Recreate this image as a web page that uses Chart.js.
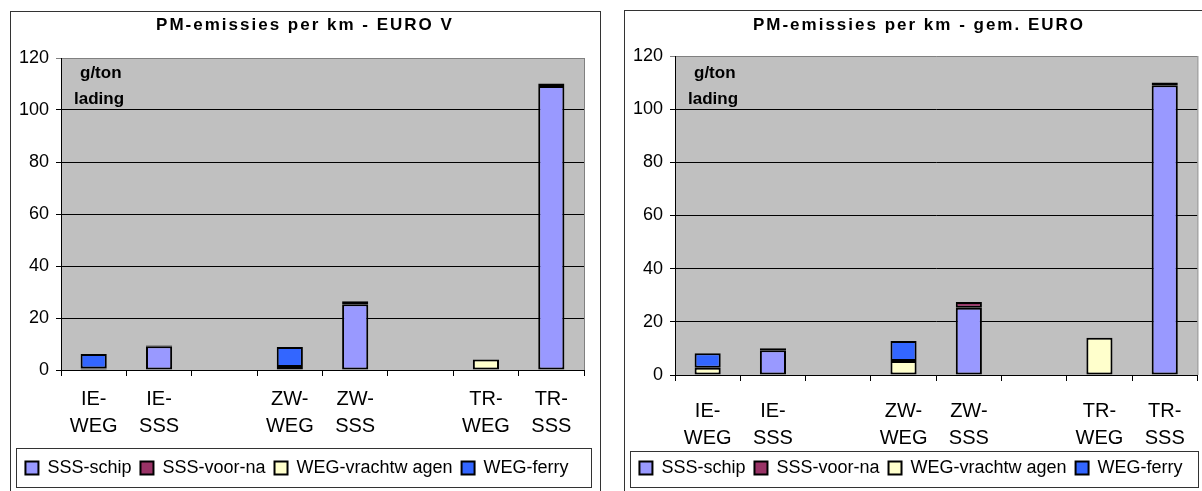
<!DOCTYPE html>
<html>
<head>
<meta charset="utf-8">
<script src="https://cdn.jsdelivr.net/npm/chart.js@4.4.1/dist/chart.umd.min.js"></script>
<style>
  body { margin: 0; background: #fff; width: 1202px; height: 491px; overflow: hidden; position: relative; }
  canvas { position: absolute; }
  #euroV { left: 10px; top: 11px; }
  #gemEuro { left: 624px; top: 10px; }
</style>
</head>
<body>
<canvas id="euroV" width="591" height="480"></canvas>
<canvas id="gemEuro" width="578" height="481"></canvas>
<script>
// categorieen (lege kolommen als scheiding)
const categories = [['IE-', 'WEG'], ['IE-', 'SSS'], '', ['ZW-', 'WEG'], ['ZW-', 'SSS'], '', ['TR-', 'WEG'], ['TR-', 'SSS']];
const seriesNames = ['SSS-schip', 'SSS-voor-na', 'WEG-vrachtw agen', 'WEG-ferry'];
const yTicks = [0, 20, 40, 60, 80, 100, 120];

// EURO V, g/ton lading
const euroVSchip  = [null, 9.1, null, null, 25.3, null, null, 109.2];
const euroVVoorNa = [null, 0.3, null, null, 1.1, null, null, 1.0];
const euroVVracht = [0.6, null, null, 1.2, null, null, 4.0, null];
const euroVFerry  = [5.6, null, null, 7.6, null, null, null, null];

// gemiddelde EURO, g/ton lading
const gemSchip  = [null, 9.3, null, null, 25.3, null, null, 109.0];
const gemVoorNa = [null, 0.8, null, null, 2.2, null, null, 1.0];
const gemVracht = [2.7, null, null, 5.3, null, null, 14.0, null];
const gemFerry  = [5.5, null, null, 7.5, null, null, null, null];

const colors = ['#9999FF', '#993366', '#FFFFCC', '#3366FF'];

Chart.defaults.font.family = '"Liberation Sans", Arial, sans-serif';
Chart.defaults.color = '#000';

const panelDecor = {
  id: 'panelDecor',
  beforeDraw(chart) {
    const ctx = chart.ctx, a = chart.chartArea;
    ctx.save();
    ctx.fillStyle = '#C0C0C0';
    ctx.fillRect(a.left, a.top, a.right - a.left, a.bottom - a.top);
    ctx.restore();
  },
  afterDraw(chart) {
    const ctx = chart.ctx, a = chart.chartArea, o = chart.options.plugins.panelDecor;
    ctx.save();
    // rand rechts van het plotvlak
    ctx.strokeStyle = '#808080';
    ctx.lineWidth = 1;
    ctx.beginPath();
    ctx.moveTo(a.right + 0.5, a.top);
    ctx.lineTo(a.right + 0.5, a.bottom);
    ctx.stroke();
    // kader om de grafiek
    ctx.strokeStyle = '#333';
    ctx.strokeRect(0.5, 0.5, o.frameWidth, 600);
    // titel
    ctx.fillStyle = '#000';
    ctx.font = 'bold 17px "Liberation Sans", Arial, sans-serif';
    ctx.letterSpacing = '2px';
    ctx.textAlign = 'center';
    ctx.textBaseline = 'middle';
    ctx.fillText(o.title, o.titleX, o.titleY);
    ctx.letterSpacing = '0px';
    // eenheid
    ctx.font = 'bold 17px "Liberation Sans", Arial, sans-serif';
    ctx.textAlign = 'left';
    ctx.fillText('g/ton', o.unitX + 6, o.unitY);
    ctx.fillText('lading', o.unitX, o.unitY + 26);
    // kader om legenda
    ctx.strokeStyle = '#333';
    ctx.strokeRect(o.legendLeft + 0.5, o.legendTop + 0.5, o.legendRight - o.legendLeft, o.legendBottom - o.legendTop);
    ctx.restore();
  }
};

function makeChart(id, title, series, opts) {
  new Chart(document.getElementById(id), {
    type: 'bar',
    data: {
      labels: categories,
      datasets: series.map((d, i) => ({
        label: seriesNames[i],
        data: d,
        backgroundColor: colors[i],
        borderColor: '#000',
        borderWidth: 2,
        borderSkipped: false,
        barPercentage: 0.4,
        categoryPercentage: 1
      }))
    },
    options: {
      responsive: false,
      animation: false,
      layout: { padding: { top: opts.top, right: opts.right, bottom: 4, left: 0 } },
      scales: {
        x: {
          stacked: true,
          grid: { drawOnChartArea: false, drawTicks: true, tickLength: 6, color: '#000' },
          border: { color: '#000', width: 1 },
          ticks: { font: { size: 20, lineHeight: 1.35 }, color: '#000', padding: opts.xPad, maxRotation: 0, autoSkip: false },
          afterFit(s) { s.height = opts.xHeight; }
        },
        y: {
          stacked: true,
          min: 0,
          max: 120,
          afterBuildTicks(s) { s.ticks = yTicks.map(v => ({ value: v })); },
          grid: {
            color: c => (c.tick && c.tick.value === 120 ? '#808080' : '#000'),
            tickLength: 5,
            lineWidth: 1
          },
          border: { color: '#000', width: 1 },
          ticks: { font: { size: 18 }, color: '#000', padding: 7 },
          afterFit(s) { s.width = 51; }
        }
      },
      plugins: {
        title: { display: false },
        tooltip: { enabled: false },
        legend: {
          position: 'bottom',
          labels: { font: { size: 18 }, color: '#000', boxWidth: 13, boxHeight: 13, padding: 9 }
        },
        panelDecor: {
          title: title,
          titleX: opts.titleX,
          titleY: opts.titleY,
          unitX: 64,
          unitY: opts.unitY,
          frameWidth: 590,
          legendLeft: 6,
          legendRight: opts.legendRight,
          legendTop: opts.legendTop,
          legendBottom: opts.legendBottom
        }
      }
    },
    plugins: [panelDecor]
  });
}

makeChart('euroV', 'PM-emissies per km - EURO V', [euroVSchip, euroVVoorNa, euroVVracht, euroVFerry],
  { top: 47, right: 17, xHeight: 80, xPad: 10, titleX: 295, titleY: 14, unitY: 62,
    legendRight: 581, legendTop: 437, legendBottom: 476 });
makeChart('gemEuro', 'PM-emissies per km - gem. EURO', [gemSchip, gemVoorNa, gemVracht, gemFerry],
  { top: 46, right: 4, xHeight: 75, xPad: 17, titleX: 295, titleY: 15, unitY: 63,
    legendRight: 574, legendTop: 441, legendBottom: 477 });
</script>
</body>
</html>
